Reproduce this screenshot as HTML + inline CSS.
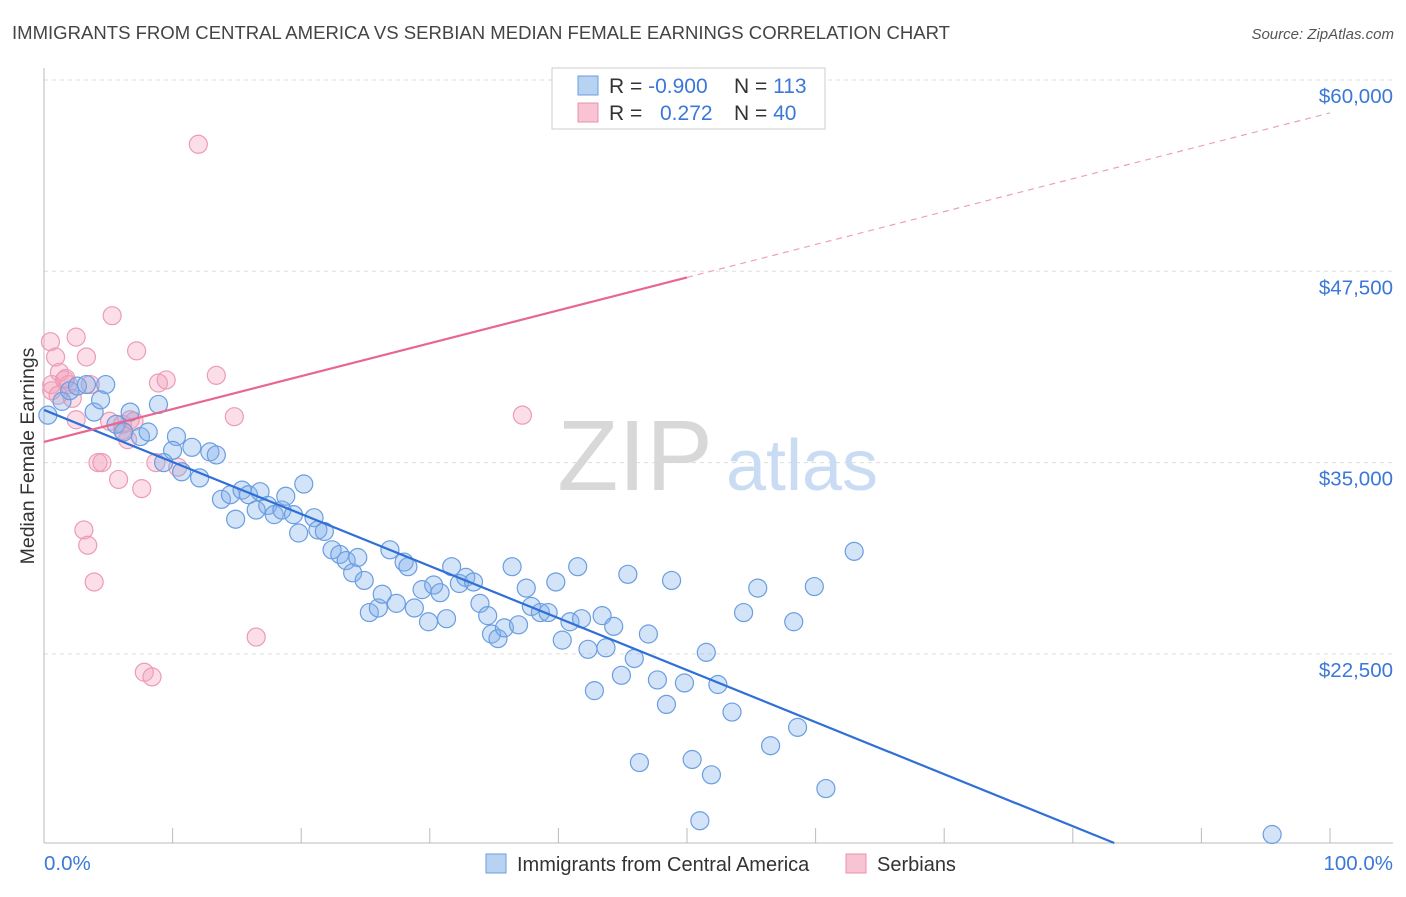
<!DOCTYPE html>
<html><head><meta charset="utf-8"><style>
body{margin:0;background:#fff;font-family:"Liberation Sans",sans-serif}
svg text{font-family:"Liberation Sans",sans-serif}
</style></head><body>
<svg width="1406" height="892" viewBox="0 0 1406 892">
<text x="12" y="39" font-size="18.5" fill="#444" textLength="938" lengthAdjust="spacingAndGlyphs">IMMIGRANTS FROM CENTRAL AMERICA VS SERBIAN MEDIAN FEMALE EARNINGS CORRELATION CHART</text>
<text x="1394" y="39" font-size="15" fill="#555" font-style="italic" text-anchor="end">Source: ZipAtlas.com</text>
<g id="grid"></g>
<g>
<text x="635" y="490" font-size="100" fill="#d8d8d8" font-family="Liberation Serif" text-anchor="middle">ZIP</text>
<text x="802" y="490" font-size="72" fill="#c9dcf3" text-anchor="middle">atlas</text>
</g>
<line x1="44" y1="68" x2="44" y2="843" stroke="#bbb"/>
<line x1="44" y1="843" x2="1393" y2="843" stroke="#bbb"/>
<g id="ticks"></g>
<text x="34" y="456" font-size="19.5" fill="#333" text-anchor="middle" transform="rotate(-90 34 456)">Median Female Earnings</text>
<text x="44" y="870" font-size="20.5" fill="#3b78d8">0.0%</text>
<text x="1393" y="870" font-size="20.5" fill="#3b78d8" text-anchor="end">100.0%</text>
<g id="pts"></g>
<g id="trends"></g>
<g>
<rect x="552" y="68" width="273" height="61" fill="#fff" stroke="#ccc"/>
<rect x="578" y="76" width="20" height="19" fill="#b8d2f2" stroke="#6a9ee0"/>
<rect x="578" y="103" width="20" height="19" fill="#f8c4d4" stroke="#e891ad"/>
<text x="609" y="93" font-size="21" fill="#333">R = <tspan fill="#3b78d8">-0.900</tspan></text>
<text x="734" y="93" font-size="21" fill="#333">N = <tspan fill="#3b78d8">113</tspan></text>
<text x="609" y="120" font-size="21" fill="#333">R = </text>
<text x="660" y="120" font-size="21" fill="#3b78d8">0.272</text>
<text x="734" y="120" font-size="21" fill="#333">N = <tspan fill="#3b78d8">40</tspan></text>
</g>
<g>
<rect x="486" y="854" width="20" height="19" fill="#b8d2f2" stroke="#6a9ee0"/>
<text x="517" y="871" font-size="20" fill="#333">Immigrants from Central America</text>
<rect x="846" y="854" width="20" height="19" fill="#f8c4d4" stroke="#e891ad"/>
<text x="877" y="871" font-size="20" fill="#333">Serbians</text>
</g>
</svg>
<script>
const yTicks=[60000,47500,35000,22500];
const yTickLabels=["$60,000","$47,500","$35,000","$22,500"];
const xTicks=[0,10,20,30,40,50,60,70,80,90,100];
const blueX=[0.3,1.4,2.0,2.6,3.3,4.8,3.9,4.4,5.6,6.7,6.2,7.5,8.1,8.9,10.3,10.0,9.3,10.7,11.5,12.1,12.9,13.4,13.8,14.5,14.9,15.4,15.9,16.5,16.8,17.4,17.9,18.5,18.8,19.4,19.8,20.2,21.0,21.3,21.8,22.4,23.0,23.5,24.0,24.4,24.9,25.3,26.0,26.3,26.9,27.4,28.0,28.3,28.8,29.4,29.9,30.3,30.8,31.3,31.7,32.3,32.8,33.4,33.9,34.5,34.8,35.3,35.8,36.4,36.9,37.5,37.9,38.6,39.2,39.8,40.3,40.9,41.5,41.8,42.3,42.8,43.4,43.7,44.3,44.9,45.4,45.9,46.3,47.0,47.7,48.4,48.8,49.8,50.4,51.0,51.5,51.9,52.4,53.5,54.4,55.5,56.5,58.3,58.6,59.9,60.8,63.0,95.5];
const blueY=[38.1,39.0,39.7,40.0,40.1,40.1,38.3,39.1,37.5,38.3,37.0,36.7,37.0,38.8,36.7,35.8,35.0,34.4,36.0,34.0,35.7,35.5,32.6,32.9,31.3,33.2,32.9,31.9,33.1,32.2,31.6,31.9,32.8,31.6,30.4,33.6,31.4,30.6,30.5,29.3,29.0,28.6,27.8,28.8,27.3,25.2,25.5,26.4,29.3,25.8,28.5,28.2,25.5,26.7,24.6,27.0,26.5,24.8,28.2,27.1,27.5,27.2,25.8,25.0,23.8,23.5,24.2,28.2,24.4,26.8,25.6,25.2,25.2,27.2,23.4,24.6,28.2,24.8,22.8,20.1,25.0,22.9,24.3,21.1,27.7,22.2,15.4,23.8,20.8,19.2,27.3,20.6,15.6,11.6,22.6,14.6,20.5,18.7,25.2,26.8,16.5,24.6,17.7,26.9,13.7,29.2,10.7];
const pinkX=[0.5,0.9,0.6,1.2,1.6,1.9,2.2,2.5,2.5,3.3,3.1,3.4,3.9,4.2,4.5,5.1,5.3,5.8,6.1,6.5,7.0,7.2,7.6,7.8,8.4,8.7,8.9,9.5,10.4,12.0,13.4,14.8,16.5,37.2,0.6,3.6,1.7,6.1,1.1,6.7];
const pinkY=[42.9,41.9,39.7,40.9,40.4,40.1,39.2,37.8,43.2,41.9,30.6,29.6,27.2,35.0,35.0,37.7,44.6,33.9,37.1,36.5,37.7,42.3,33.3,21.3,21.0,35.0,40.2,40.4,34.7,55.8,40.7,38.0,23.6,38.1,40.1,40.1,40.5,37.5,39.4,37.8];
const trendIntercepts=[38.44,36.35];
const trendSlopes=[-0.34,0.215];
const NS="http://www.w3.org/2000/svg";
const X=p=>44+p*12.86;
const Y=v=>80+(60000-v)*0.015304;
function mk(t,a,parent){const e=document.createElementNS(NS,t);for(const k in a)e.setAttribute(k,a[k]);document.getElementById(parent).appendChild(e);return e;}
yTicks.forEach((v,i)=>{
 const l=mk('line',{x1:44,x2:1393,y1:Y(v),y2:Y(v),stroke:'#ddd','stroke-dasharray':'4,4'},'grid');
 
 
 const t=mk('text',{x:1393,y:Y(v)+23,'font-size':20.5,fill:'#3b78d8','text-anchor':'end'},'grid');
 t.textContent=yTickLabels[i];
 
 
});
xTicks.forEach(p=>{
 const l=mk('line',{x1:X(p),x2:X(p),y1:828,y2:843,stroke:'#bbb'},'ticks');
 
 
});
pinkX.forEach((p,i)=>{
 const c=mk('circle',{cx:X(p),cy:Y(pinkY[i]*1000),r:9,fill:'rgba(244,160,188,0.35)',stroke:'#ec9bb6','stroke-width':1.2},'pts');
 
 
});
blueX.forEach((p,i)=>{
 const c=mk('circle',{cx:X(p),cy:Y(blueY[i]*1000),r:9,fill:'rgba(130,175,235,0.35)',stroke:'#6a9ee0','stroke-width':1.2},'pts');
 
 
});
const bEnd=(10.144-trendIntercepts[0])/trendSlopes[0];
const bl=mk('line',{x1:X(0),y1:Y(trendIntercepts[0]*1000),x2:X(bEnd),y2:Y(10144),stroke:'#2f6fd6','stroke-width':2.2},'trends');


const pf=x=>Y((trendIntercepts[1]+trendSlopes[1]*x)*1000);
const pl=mk('line',{x1:X(0),y1:pf(0),x2:X(50),y2:pf(50),stroke:'#e8668f','stroke-width':2.2},'trends');


const pd=mk('line',{x1:X(50),y1:pf(50),x2:X(100),y2:pf(100),stroke:'#eea0b8','stroke-width':1.2,'stroke-dasharray':'6,5'},'trends');


</script>
</body></html>
